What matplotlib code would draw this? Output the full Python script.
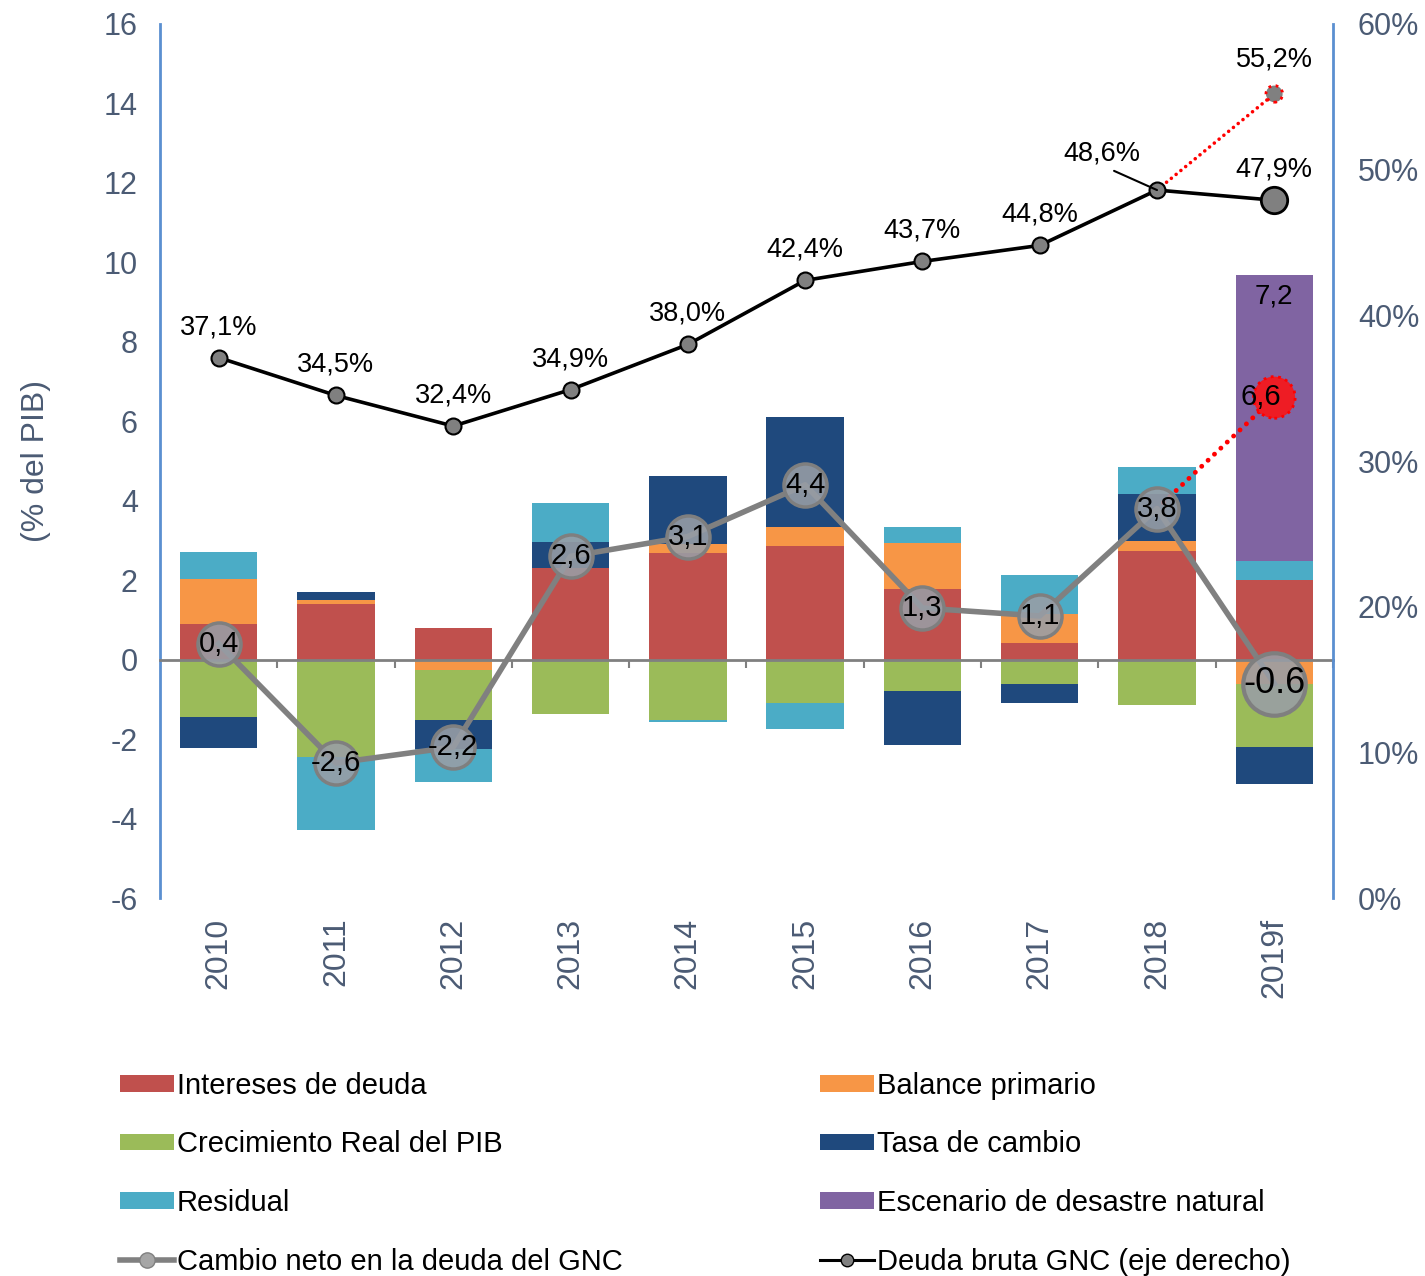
"""Descomposición del cambio en la deuda del GNC (% del PIB), 2010-2019f."""

import matplotlib

matplotlib.use("Agg")
import matplotlib.pyplot as plt
from matplotlib.lines import Line2D
from matplotlib.patches import Patch

plt.rcParams["font.family"] = ["Liberation Sans", "DejaVu Sans"]
plt.rcParams["axes.unicode_minus"] = False  # reference uses plain hyphens

# --- data ---
years = ["2010", "2011", "2012", "2013", "2014", "2015", "2016", "2017", "2018", "2019f"]
intereses = [0.89, 1.41, 0.80, 2.30, 2.69, 2.87, 1.79, 0.41, 2.73, 2.01]
balance = [1.14, 0.09, -0.25, 0.0, 0.21, 0.46, 1.14, 0.73, 0.26, -0.60]
crecimiento = [-1.44, -2.44, -1.27, -1.38, -1.51, -1.08, -0.80, -0.60, -1.13, -1.61]
tasa = [-0.79, 0.20, -0.72, 0.65, 1.73, 2.77, -1.34, -0.48, 1.18, -0.93]
residual = [0.67, -1.84, -0.83, 1.00, -0.05, -0.66, 0.40, 0.99, 0.68, 0.48]
desastre = [0, 0, 0, 0, 0, 0, 0, 0, 0, 7.2]
cambio_neto = [0.4, -2.6, -2.2, 2.6, 3.1, 4.4, 1.3, 1.1, 3.8, -0.6]
cambio_labels = ["0,4", "-2,6", "-2,2", "2,6", "3,1", "4,4", "1,3", "1,1", "3,8", "-0.6"]
deuda = [37.1, 34.5, 32.4, 34.9, 38.0, 42.4, 43.7, 44.8, 48.6, 47.9]
escenario_cambio = 6.6
escenario_deuda = 55.2

SERIES = [
    ("Intereses de deuda", intereses, "#C0504D"),
    ("Balance primario", balance, "#F79646"),
    ("Crecimiento Real del PIB", crecimiento, "#9BBB59"),
    ("Tasa de cambio", tasa, "#1F497D"),
    ("Residual", residual, "#4BACC6"),
    ("Escenario de desastre natural", desastre, "#8064A2"),
]

SLATE = "#4B5B74"
SPINE = "#5B8FD0"
GRAY = "#808080"

fig = plt.figure(figsize=(14.25, 12.76), dpi=100)
ax = fig.add_axes([0.1123, 0.2962, 0.8231, 0.6850])
x = list(range(len(years)))

# Excel-style stacking: positives and negatives pile up separately
pos = [0.0] * len(x)
neg = [0.0] * len(x)
for name, vals, color in SERIES:
    bottoms = [pos[i] if v >= 0 else neg[i] for i, v in enumerate(vals)]
    ax.bar(x, vals, width=0.66, bottom=bottoms, color=color, zorder=2)
    for i, v in enumerate(vals):
        if v >= 0:
            pos[i] += v
        else:
            neg[i] += v

ax.text(x[-1], pos[-1] - 0.55, f"{desastre[-1]:.1f}".replace(".", ","),
        ha="center", va="center", fontsize=20, zorder=6)

# net change line with big round markers
circle_face = (0.60, 0.62, 0.65, 0.88)
ax.plot(x[8:], [cambio_neto[8], escenario_cambio], linestyle=(0, (0.01, 1.8)),
        color="red", lw=3.5, dash_capstyle="round", zorder=3)
ax.scatter([x[-1]], [escenario_cambio], s=30 ** 2, color="#EE1C24", edgecolor="red",
           linestyle=":", linewidth=2, zorder=3)
ax.plot(x, cambio_neto, color=GRAY, lw=4, marker="o", markersize=31,
        markerfacecolor=circle_face, markeredgecolor="#7F7F7F", markeredgewidth=2.5,
        markevery=list(range(9)), zorder=4)
ax.plot(x[-1:], cambio_neto[-1:], "o", markersize=45, markerfacecolor=circle_face,
        markeredgecolor="#7F7F7F", markeredgewidth=3, zorder=4)
for i, lab in enumerate(cambio_labels):
    ax.text(x[i], cambio_neto[i], lab, ha="center", va="center",
            fontsize=26 if i == len(x) - 1 else 21, zorder=5)
ax.annotate("6,6", (x[-1], escenario_cambio), xytext=(-10, 0),
            textcoords="offset points", ha="center", va="center", fontsize=21, zorder=5)

# axes styling
ax.set_xlim(-0.5, len(x) - 0.5)
ax.set_ylim(-6, 16)
ax.set_yticks(range(-6, 17, 2))
ax.tick_params(axis="y", length=0, pad=16, labelsize=22, labelcolor=SLATE)
ax.spines["top"].set_visible(False)
ax.spines["right"].set_visible(False)
ax.spines["left"].set_color(SPINE)
ax.spines["left"].set_linewidth(2)
ax.spines["bottom"].set_position(("data", 0))
ax.spines["bottom"].set_color(GRAY)
ax.spines["bottom"].set_linewidth(2)
ax.spines["bottom"].set_zorder(2.5)
ax.set_xticks([i + 0.5 for i in x])
ax.tick_params(axis="x", length=6, width=1.5, color=GRAY, labelbottom=False)
ax.set_ylabel("(% del PIB)", fontsize=23, color=SLATE, labelpad=38)

sec = ax.secondary_xaxis(0)
sec.set_xticks(x, labels=years)
sec.tick_params(length=0, pad=14, labelsize=23, labelcolor=SLATE, labelrotation=90)
sec.spines["bottom"].set_visible(False)

# debt on the right axis
rt = ax.twinx()
rt.set_ylim(0, 60)
rt.set_yticks(range(0, 61, 10), labels=[f"{v}%" for v in range(0, 61, 10)])
rt.tick_params(axis="y", length=0, pad=18, labelsize=22, labelcolor=SLATE)
for side in ("top", "bottom", "left"):
    rt.spines[side].set_visible(False)
rt.spines["right"].set_color(SPINE)
rt.spines["right"].set_linewidth(2)

rt.plot(x[8:], [deuda[8], escenario_deuda], linestyle=(0, (0.01, 1.7)), color="red",
        lw=2.6, dash_capstyle="round", zorder=2)
rt.scatter([x[-1]], [escenario_deuda], s=12 ** 2, color=GRAY, edgecolor="red",
           linestyle=":", linewidth=2, zorder=3)
rt.plot(x, deuda, color="black", lw=2.6, marker="o", markersize=11.5,
        markerfacecolor=GRAY, markeredgecolor="black", markeredgewidth=1.5,
        markevery=list(range(9)), zorder=3)
rt.plot(x[-1:], deuda[-1:], "o", markersize=19, markerfacecolor=GRAY,
        markeredgecolor="black", markeredgewidth=2, zorder=3)


def pct(v):
    return f"{v:.1f}%".replace(".", ",")


for i, v in enumerate(deuda):
    if i == 8:
        rt.annotate(pct(v), (x[i], v), xytext=(-40, 26), textcoords="offset points",
                    ha="center", va="center", fontsize=19.5,
                    arrowprops=dict(arrowstyle="-", color="black", lw=1.5,
                                    relpos=(0.55, 0.0), shrinkA=2, shrinkB=0))
    else:
        rt.annotate(pct(v), (x[i], v), xytext=(0, 22), textcoords="offset points",
                    ha="center", va="center", fontsize=19.5)
rt.annotate(pct(escenario_deuda), (x[-1], escenario_deuda), xytext=(0, 25),
            textcoords="offset points", ha="center", va="center", fontsize=19.5)

# legend: two columns placed as separate legends
def patch(c):
    return Patch(facecolor=c, edgecolor="none")


cambio_h = Line2D([], [], color=GRAY, lw=4, marker="o", markersize=11,
                  markerfacecolor="#A6A6A6", markeredgecolor=GRAY)
deuda_h = Line2D([], [], color="black", lw=2.2, marker="o", markersize=9,
                 markerfacecolor=GRAY, markeredgecolor="black")
col1 = [(patch(SERIES[0][2]), SERIES[0][0]), (patch(SERIES[2][2]), SERIES[2][0]),
        (patch(SERIES[4][2]), SERIES[4][0]), (cambio_h, "Cambio neto en la deuda del GNC")]
col2 = [(patch(SERIES[1][2]), SERIES[1][0]), (patch(SERIES[3][2]), SERIES[3][0]),
        (patch(SERIES[5][2]), SERIES[5][0]), (deuda_h, "Deuda bruta GNC (eje derecho)")]
for items, xpos in ((col1, 0.0842), (col2, 0.5754)):
    fig.legend([h for h, _ in items], [t for _, t in items], loc="upper left",
               bbox_to_anchor=(xpos, 0.160), frameon=False, fontsize=21,
               handlelength=1.85, handleheight=0.5, handletextpad=0.1,
               labelspacing=1.05, borderaxespad=0, borderpad=0)

fig.savefig("out.png", dpi=100)
